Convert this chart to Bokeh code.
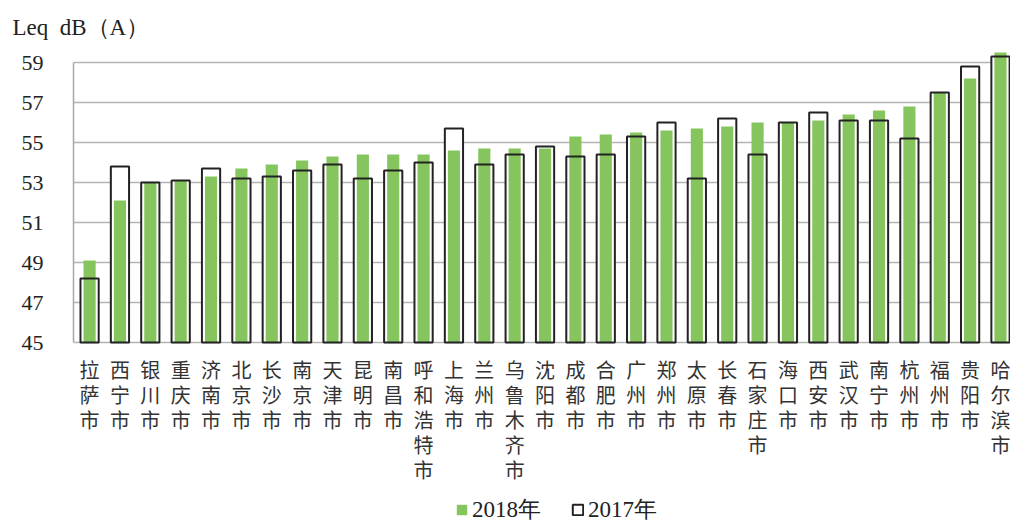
from bokeh.plotting import figure
from bokeh.models import FixedTicker, Range1d, Legend, LegendItem, ColumnDataSource
from bokeh.core.properties import value
from bokeh.embed import file_html
from bokeh.resources import INLINE

cities = ["拉萨市", "西宁市", "银川市", "重庆市", "济南市", "北京市", "长沙市", "南京市",
          "天津市", "昆明市", "南昌市", "呼和浩特市", "上海市", "兰州市", "乌鲁木齐市", "沈阳市",
          "成都市", "合肥市", "广州市", "郑州市", "太原市", "长春市", "石家庄市", "海口市",
          "西安市", "武汉市", "南宁市", "杭州市", "福州市", "贵阳市", "哈尔滨市"]
v2018 = [49.1, 52.1, 53.0, 53.1, 53.3, 53.7, 53.9, 54.1, 54.3, 54.4, 54.4, 54.4, 54.6, 54.7, 54.7, 54.7,
         55.3, 55.4, 55.5, 55.6, 55.7, 55.8, 56.0, 56.0, 56.1, 56.4, 56.6, 56.8, 57.5, 58.2, 59.5]
v2017 = [48.2, 53.8, 53.0, 53.1, 53.7, 53.2, 53.3, 53.6, 53.9, 53.2, 53.6, 54.0, 55.7, 53.9, 54.4, 54.8,
         54.3, 54.4, 55.3, 56.0, 53.2, 56.2, 54.4, 56.0, 56.5, 56.1, 56.1, 55.2, 57.5, 58.8, 59.3]
y_ticks = [45, 47, 49, 51, 53, 55, 57, 59]
BASE = 45
X0, X1, Y0, Y1 = -0.53, 30.33, 35.85, 59.6

xs = list(range(len(cities)))
src = ColumnDataSource(dict(x=xs, v18=v2018, v17=v2017))

# frame: 20 px per dB; extends down to hold the vertical city names and legend
p = figure(width=1010, height=525, x_range=Range1d(X0, X1), y_range=Range1d(Y0, Y1),
           output_backend="svg", toolbar_location=None,
           min_border_left=73, min_border_right=0, min_border_top=50, min_border_bottom=0)
p.outline_line_color = None
p.background_fill_color = "white"

p.vbar(x="x", top="v17", bottom=BASE, width=0.6, source=src, fill_color="white", line_color=None)
g18 = p.vbar(x="x", top="v18", bottom=BASE, width=0.4, source=src, fill_color="#86C55E", line_color=None)
o17 = p.vbar(x="x", top="v17", bottom=BASE, width=0.6, source=src, fill_alpha=0,
             line_color="#222222", line_width=2)

# vertical city names: one character per row
cx, cy, ct = [], [], []
for i, c in enumerate(cities):
    for r, ch in enumerate(c):
        cx.append(i)
        cy.append(BASE - 1.35 - r * 1.25)
        ct.append(ch)
p.text(x=cx, y=cy, text=ct, text_align="center", text_baseline="middle",
       text_font=value("Noto Sans CJK SC"), text_font_size="20px", text_color="#333333")

p.xgrid.visible = False
p.ygrid.ticker = FixedTicker(ticks=y_ticks)
p.ygrid.grid_line_color = "#b4b4b4"
p.ygrid.grid_line_width = 1.5
p.xaxis.visible = False

ya = p.yaxis[0]
ya.ticker = FixedTicker(ticks=y_ticks)
ya.bounds = (45, 59)
ya.axis_line_color = "#a8a8a8"
ya.axis_line_width = 1.5
ya.major_tick_line_color = None
ya.minor_tick_line_color = None
ya.major_label_standoff = 24
ya.major_label_text_font = "Liberation Serif"
ya.major_label_text_font_size = "22px"
ya.major_label_text_color = "#222222"

# unit label (title) at the top-left
p.title.text = "Leq\u00a0\u00a0dB（A）"
p.title.text_font = "Liberation Serif"
p.title.text_font_size = "23px"
p.title.text_font_style = "normal"
p.title.text_color = "#222222"
p.title.align = "left"
p.title.offset = -61
p.title.standoff = 21

legend = Legend(items=[LegendItem(label="2018年", renderers=[g18]),
                       LegendItem(label="2017年", renderers=[o17])],
                orientation="horizontal", location=(382, 0),
                glyph_width=13, glyph_height=13, label_standoff=4, spacing=30,
                label_text_font="Liberation Serif", label_text_font_size="23px",
                label_text_color="#222222",
                border_line_alpha=0, background_fill_alpha=0, padding=0, margin=0)
p.add_layout(legend)

open("out.html", "w").write(file_html(p, INLINE))
